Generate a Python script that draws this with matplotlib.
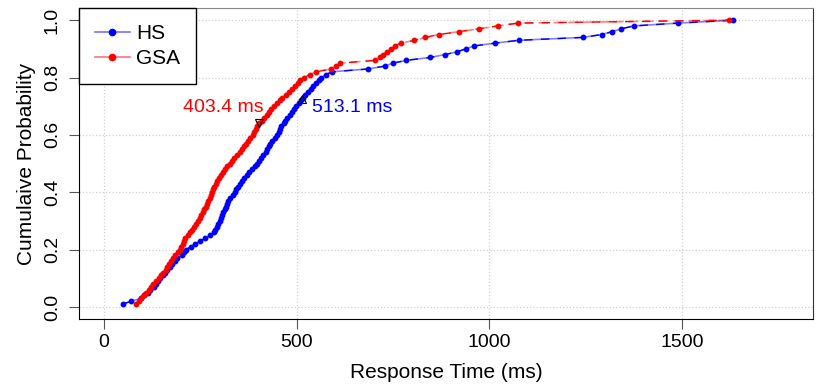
import matplotlib.pyplot as plt
from matplotlib.lines import Line2D
import numpy as np

plt.rcParams['font.family'] = ['Liberation Sans', 'DejaVu Sans']

# tiempos de respuesta ordenados (ms), 100 muestras por algoritmo
hs_ms = [48, 71, 95, 104, 113, 120, 129, 135, 141, 146,
         152, 159, 163, 172, 176, 184, 190, 202, 207, 213,
         225, 237, 250, 263, 276, 285, 289, 292, 297, 300,
         303, 307, 310, 313, 316, 319, 323, 328, 334, 339,
         343, 348, 353, 359, 364, 370, 377, 384, 391, 398,
         403, 408, 413, 420, 424, 428, 432, 437, 443, 449,
         453, 456, 460, 466, 471, 476, 482, 487, 493, 499,
         505, 511, 517, 523, 530, 537, 543, 550, 557, 564,
         576, 591, 686, 729, 749, 785, 846, 885, 917, 939,
         960, 1014, 1078, 1243, 1292, 1319, 1343, 1375, 1491, 1634]

gsa_ms = [82, 91, 97, 103, 110, 116, 122, 128, 136, 143,
          147, 153, 160, 164, 169, 174, 178, 183, 191, 196,
          199, 204, 207, 211, 217, 222, 229, 234, 240, 245,
          249, 253, 257, 260, 264, 267, 270, 274, 277, 280,
          283, 286, 290, 294, 298, 303, 309, 315, 320, 326,
          332, 338, 346, 352, 358, 363, 368, 374, 380, 386,
          390, 394, 398, 403, 409, 416, 422, 428, 434, 441,
          449, 456, 463, 472, 480, 488, 496, 503, 510, 518,
          534, 550, 590, 602, 612, 703, 716, 725, 734, 745,
          755, 771, 806, 834, 869, 921, 973, 1023, 1075, 1623]

medias = [513.1, 403.4]  # HS, GSA
etiquetas = ['513.1 ms', '403.4 ms']

def ecdf(v):
    v = np.sort(np.array(v, dtype=float))
    return v, np.arange(1, len(v) + 1) / len(v)

x_hs, y_hs = ecdf(hs_ms)
x_gsa, y_gsa = ecdf(gsa_ms)

fig = plt.figure(figsize=(8.23, 3.89), dpi=100)
ax = fig.add_axes([0.096, 0.18, 0.892, 0.799])

ax.grid(True, ls=':', color='#d0d0d0', lw=0.9)
ax.set_axisbelow(True)

# HS: línea clara + trazos oscuros
ax.plot(x_hs, y_hs, color='blue', alpha=0.5, lw=1.2)
ax.plot(x_hs, y_hs, color='blue', lw=1, ls=(0, (6, 6)), marker='o', ms=3.2)
# GSA
ax.plot(x_gsa, y_gsa, color='red', alpha=0.5, lw=1.2, ls=(6, (6, 3)))
ax.plot(x_gsa, y_gsa, color='red', lw=1, ls=(0, (6, 6)), marker='o', ms=3.2)

# marcadores de la media
y_m_hs = np.interp(medias[0], x_hs, y_hs)
y_m_gsa = np.interp(medias[1], x_gsa, y_gsa)
ax.plot(medias[0], y_m_hs, marker='^', ms=6, mfc='none', mec='black', mew=0.8, ls='none')
ax.plot(medias[1], y_m_gsa, marker='v', ms=6, mfc='none', mec='black', mew=0.8, ls='none')
ax.text(medias[0] + 27, 0.695, etiquetas[0], color='blue', fontsize=14, ha='left', va='center')
ax.text(medias[1] + 10, 0.695, etiquetas[1], color='red', fontsize=14, ha='right', va='center')

ax.set_xlim(-65, 1841)
ax.set_ylim(-0.042, 1.042)
ax.set_xticks([0, 500, 1000, 1500])
ax.set_yticks([0.0, 0.2, 0.4, 0.6, 0.8, 1.0])
ax.set_yticklabels(['0.0', '0.2', '0.4', '0.6', '0.8', '1.0'], rotation=90, va='center')
ax.tick_params(labelsize=14, length=7, width=0.8, color='#555555')
ax.tick_params(axis='y', pad=6)
ax.set_xlabel('Response Time (ms)', fontsize=15, labelpad=9)
ax.set_ylabel('Cumulaive Probability', fontsize=15, labelpad=6)

ax.spines['top'].set_color('#888888')
ax.spines['right'].set_color('#333333')
for s in ['left', 'bottom']:
    ax.spines[s].set_color('black')

handles = [Line2D([], [], color=(0, 0, 1, 0.55), lw=1.2, marker='o', ms=4.5, mfc='blue', mec='blue'),
           Line2D([], [], color=(1, 0, 0, 0.55), lw=1.2, marker='o', ms=4.5, mfc='red', mec='red')]
leg = ax.legend(handles, ['HS', 'GSA'], loc='upper left', borderaxespad=0, fancybox=False,
                edgecolor='black', framealpha=1, fontsize=15, handlelength=1.7,
                handletextpad=0.3, borderpad=0.75, labelspacing=0.3)
leg.get_frame().set_linewidth(1.0)

fig.savefig('out.png', dpi=100)
